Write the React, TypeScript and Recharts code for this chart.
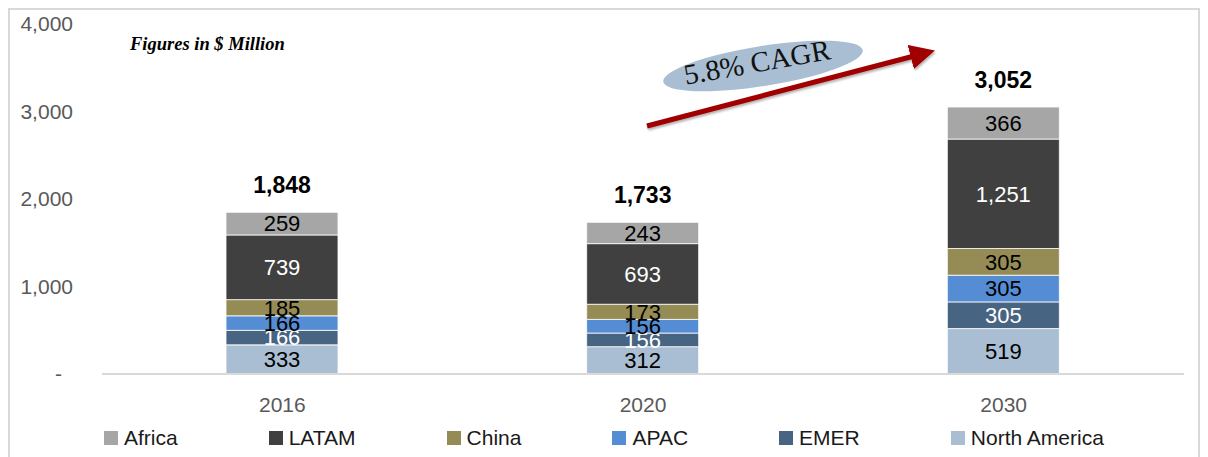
import { BarChart, Bar, XAxis, YAxis, LabelList, Legend } from 'recharts';

const categories = ['2016', '2020', '2030'];
const northAmerica = [333, 312, 519];
const emer = [166, 156, 305];
const apac = [166, 156, 305];
const china = [185, 173, 305];
const latam = [739, 693, 1251];
const africa = [259, 243, 366];
const totals = [1848, 1733, 3052];
const yTicks = [0, 1000, 2000, 3000, 4000];

const FONT = '"Liberation Sans", Arial, sans-serif';
const SERIF = '"Liberation Serif", "Times New Roman", serif';

// bottom-to-top stacking order
const series = [
  { key: 'northAmerica', name: 'North America', color: '#A9BED2', text: '#000000', values: northAmerica },
  { key: 'emer', name: 'EMER', color: '#476482', text: '#ffffff', values: emer },
  { key: 'apac', name: 'APAC', color: '#558DD4', text: '#000000', values: apac },
  { key: 'china', name: 'China', color: '#958B55', text: '#000000', values: china },
  { key: 'latam', name: 'LATAM', color: '#404040', text: '#ffffff', values: latam },
  { key: 'africa', name: 'Africa', color: '#A6A6A6', text: '#000000', values: africa },
];

const data = categories.map((year, i) => {
  const row: Record<string, string | number> = { year, total: totals[i] };
  series.forEach((s) => { row[s.key] = s.values[i]; });
  return row;
});

const fmt = (v: number) => v.toLocaleString('en-US');

function YTick(props: any) {
  const { x, y, payload } = props;
  const zero = payload.value === 0;
  return (
    <text
      x={zero ? x - 11 : x}
      y={y}
      dy={7}
      textAnchor="end"
      fill="#595959"
      fontSize={21}
      fontFamily={FONT}
    >
      {zero ? '-' : fmt(payload.value)}
    </text>
  );
}

function LegendContent() {
  const items = [...series].reverse();
  return (
    <div style={{ display: 'flex', height: 24, alignItems: 'center', fontFamily: FONT, fontSize: 21, color: '#1a1a1a' }}>
      {items.map((s) => (
        <div key={s.key} style={{ display: 'flex', alignItems: 'center', marginRight: 91 }}>
          <span style={{ width: 14, height: 14, background: s.color, marginRight: 6, display: 'inline-block' }} />
          <span>{s.name}</span>
        </div>
      ))}
    </div>
  );
}

export default function App() {
  return (
    <div style={{ position: 'absolute', left: 0, top: 0, width: 1208, height: 457, overflow: 'hidden', background: '#fff' }}>
      <div style={{ position: 'absolute', left: 8, top: 8, width: 1188, height: 470, border: '2px solid #d9d9d9' }} />
      <div style={{ position: 'absolute', left: 0, top: 0 }}>
        <BarChart
          width={1208}
          height={457}
          data={data}
          margin={{ top: 24, right: 24, bottom: 7, left: 0 }}
          barSize={112}
        >
          <XAxis
            dataKey="year"
            axisLine={{ stroke: '#d9d9d9', strokeWidth: 2 }}
            tickLine={false}
            tickSize={0}
            tickMargin={23}
            height={52}
            tick={{ fill: '#595959', fontSize: 21, fontFamily: FONT }}
          />
          <YAxis
            width={102}
            domain={[0, 4000]}
            ticks={yTicks}
            axisLine={false}
            tickLine={false}
            tickSize={0}
            tickMargin={29}
            tick={<YTick />}
          />
          <Legend
            verticalAlign="bottom"
            align="left"
            content={<LegendContent />}
            wrapperStyle={{ left: 104, bottom: 7, height: 24 }}
          />
          {series.map((s, idx) => (
            <Bar
              key={s.key}
              dataKey={s.key}
              name={s.name}
              stackId="a"
              fill={s.color}
              stroke="#ffffff"
              strokeWidth={0.8}
              isAnimationActive={false}
            >
              <LabelList
                dataKey={s.key}
                position="center"
                fill={s.text}
                fontSize={22}
                fontFamily={FONT}
                formatter={(v: any) => fmt(Number(v))}
              />
              {idx === series.length - 1 && (
                <LabelList
                  dataKey="total"
                  position="top"
                  offset={19}
                  fill="#000000"
                  fontSize={23}
                  fontWeight="bold"
                  fontFamily={FONT}
                  formatter={(v: any) => fmt(Number(v))}
                />
              )}
            </Bar>
          ))}
        </BarChart>
      </div>
      <svg width={1208} height={457} style={{ position: 'absolute', left: 0, top: 0, pointerEvents: 'none' }}>
        <defs>
          <marker id="head" markerWidth="5" markerHeight="5" refX="1.5" refY="2.5" orient="auto" markerUnits="strokeWidth">
            <path d="M0,0 L5,2.5 L0,5 Z" fill="#A00000" />
          </marker>
          <filter id="sh" x="-10%" y="-50%" width="120%" height="200%">
            <feDropShadow dx="1" dy="2" stdDeviation="1.2" floodColor="#000" floodOpacity="0.3" />
          </filter>
        </defs>
        <text x={130} y={50} fontFamily={SERIF} fontSize={18.5} fontStyle="italic" fontWeight="bold" fill="#000">
          Figures in $ Million
        </text>
        <ellipse cx={763} cy={66} rx={101} ry={20} fill="#A9BED2" transform="rotate(-9 763 66)" />
        <text
          x={757}
          y={72}
          textAnchor="middle"
          fontFamily={SERIF}
          fontSize={29}
          fill="#111111"
          transform="rotate(-10 757 62)"
        >
          5.8% CAGR
        </text>
        <line x1={647} y1={126} x2={918} y2={55} stroke="#A00000" strokeWidth={5} markerEnd="url(#head)" filter="url(#sh)" />
      </svg>
    </div>
  );
}
